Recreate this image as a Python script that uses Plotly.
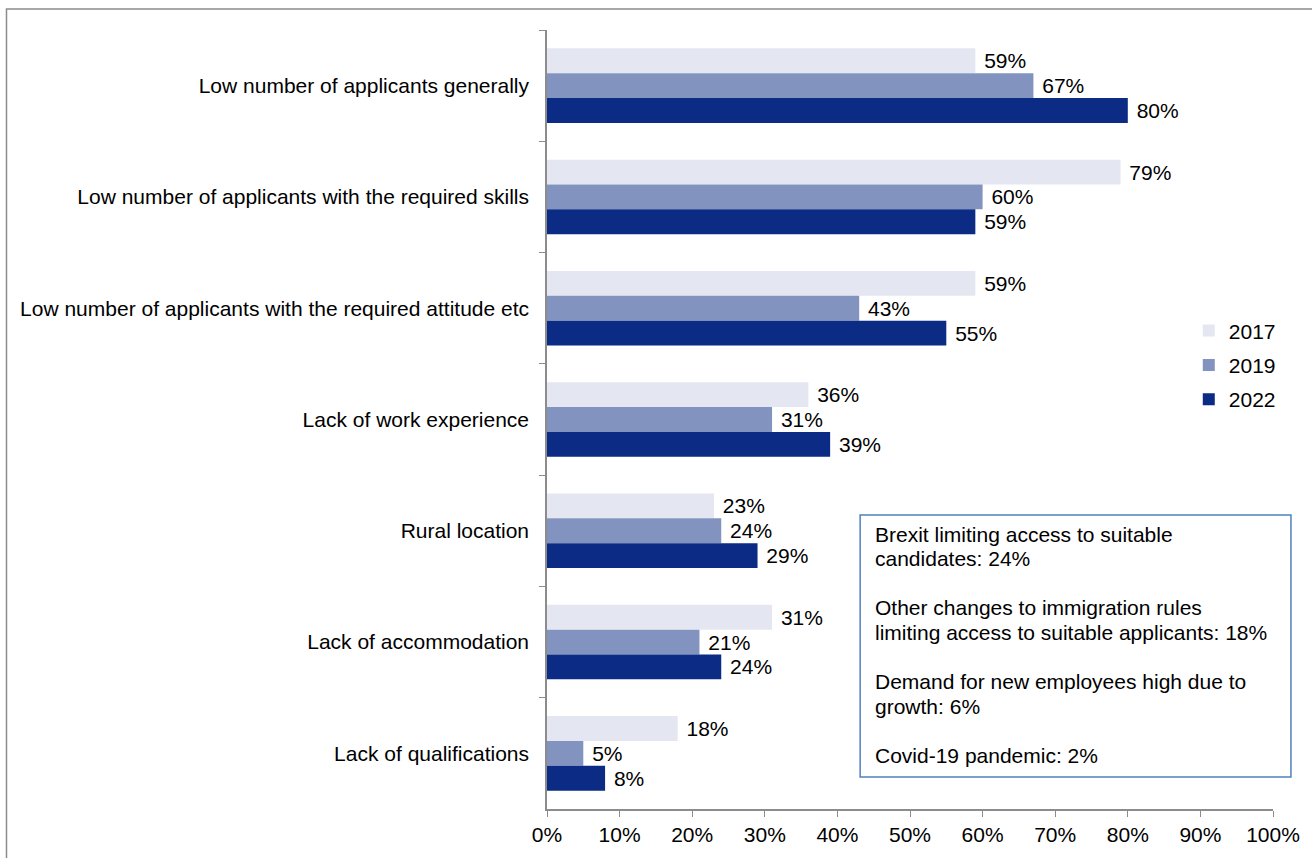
import plotly.graph_objects as go

# Reasons for recruitment difficulty, share of employers (%)
categories = [
    "Low number of applicants generally",
    "Low number of applicants with the required skills",
    "Low number of applicants with the required attitude etc",
    "Lack of work experience",
    "Rural location",
    "Lack of accommodation",
    "Lack of qualifications",
]
years = ["2017", "2019", "2022"]
values_2017 = [59, 79, 59, 36, 23, 31, 18]
values_2019 = [67, 60, 43, 31, 24, 21, 5]
values_2022 = [80, 59, 55, 39, 29, 24, 8]
series = [values_2017, values_2019, values_2022]
colors = ["#E4E7F1", "#8393C0", "#0B2B84"]

other_reasons = [
    ["Brexit limiting access to suitable", "candidates: 24%"],
    ["Other changes to immigration rules", "limiting access to suitable applicants: 18%"],
    ["Demand for new employees high due to", "growth: 6%"],
    ["Covid-19 pandemic: 2%"],
]

FONT = "Liberation Sans, Arial, sans-serif"
FS = 21

fig = go.Figure()
for year, vals, col in zip(years, series, colors):
    fig.add_trace(go.Bar(
        y=categories,
        x=vals,
        name=year,
        orientation="h",
        marker=dict(color=col, line=dict(width=0)),
        text=[f" {v}%" for v in vals],
        textposition="outside",
        textfont=dict(size=FS, color="#000000", family=FONT),
        cliponaxis=False,
        legendgroup=year,
    ))

fig.update_layout(
    width=1312,
    height=858,
    margin=dict(l=547, r=37, t=30, b=49),
    paper_bgcolor="white",
    plot_bgcolor="white",
    barmode="group",
    bargap=0.33,
    bargroupgap=0,
    font=dict(family=FONT, size=FS, color="#000000"),
    showlegend=True,
    legend=dict(
        x=0.884, xanchor="left",
        y=0.57, yanchor="middle",
        font=dict(size=FS),
        traceorder="grouped",
        tracegroupgap=4,
        bgcolor="rgba(0,0,0,0)",
    ),
    xaxis=dict(
        range=[0, 100],
        dtick=10,
        ticksuffix="%",
        showgrid=False,
        zeroline=False,
        showline=True,
        linecolor="#8C8C8C",
        linewidth=1.5,
        ticks="outside",
        ticklen=6,
        tickcolor="#8C8C8C",
        tickfont=dict(size=FS),
        fixedrange=True,
    ),
    yaxis=dict(
        autorange="reversed",
        showgrid=False,
        showline=True,
        linecolor="#8C8C8C",
        linewidth=1.5,
        ticks="outside",
        tickson="boundaries",
        ticklen=6,
        tickcolor="#8C8C8C",
        tickfont=dict(size=FS),
        ticklabelstandoff=12,
        fixedrange=True,
    ),
)

# Outer frame around the whole chart
fig.add_shape(
    type="rect", xref="paper", yref="paper",
    x0=-0.7445, x1=1.2, y0=-0.2, y1=1.0268,
    line=dict(color="#8C8C8C", width=1.5),
    fillcolor="rgba(0,0,0,0)", layer="above",
)

# Box listing further reasons
fig.add_shape(
    type="rect", xref="paper", yref="paper",
    x0=(861 - 547) / 728, x1=(1293 - 547) / 728,
    y0=(809 - 777) / 779, y1=(809 - 515) / 779,
    line=dict(color="#4F81BD", width=1.5),
    fillcolor="white", layer="above",
)

# One text line per annotation so the line spacing stays tight;
# paragraphs are separated by one empty line
line_px = 24.6
first_line_px = 534
row = 0
for para in other_reasons:
    for line in para:
        y_px = first_line_px + row * line_px
        fig.add_annotation(
            xref="paper", yref="paper",
            x=(874 - 547) / 728, y=(809 - y_px) / 779,
            xanchor="left", yanchor="middle",
            align="left",
            showarrow=False,
            text=line,
            font=dict(size=FS, color="#000000", family=FONT),
        )
        row += 1
    row += 1

fig.write_html("out.html")
